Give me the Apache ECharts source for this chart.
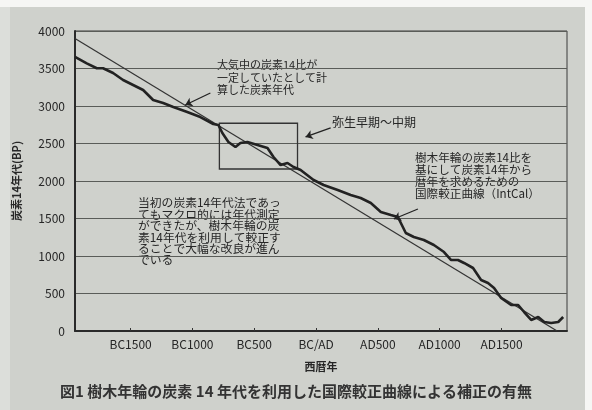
<!DOCTYPE html>
<html>
<head>
<meta charset="utf-8">
<script src="https://cdn.jsdelivr.net/npm/echarts@6/dist/echarts.min.js"></script>
<style>
  html, body { margin: 0; padding: 0; background: #ffffff; }
  #chart { width: 592px; height: 410px; }
</style>
</head>
<body>
<div id="chart"></div>
<script>
// Calendar year (negative = BC) and radiocarbon age (BP) of the IntCal curve
const curveYears = [
  -1950, -1855, -1774, -1723, -1642, -1561, -1480, -1399, -1318, -1237,
  -1155, -1042, -936, -831, -790, -758, -709, -652, -612, -555,
  -474, -393, -344, -287, -231, -182, -125, -20, 61, 175,
  280, 361, 443, 524, 605, 662, 686, 726, 791, 872,
  953, 1035, 1091, 1148, 1197, 1270, 1335, 1391, 1440, 1497,
  1578, 1635, 1683, 1740, 1797, 1846, 1902, 1959, 1999
];
const curveBP = [
  3655, 3569, 3503, 3503, 3440, 3347, 3280, 3213, 3080, 3040,
  2987, 2920, 2853, 2760, 2747, 2640, 2520, 2453, 2507, 2520,
  2480, 2440, 2320, 2213, 2240, 2187, 2147, 2013, 1947, 1880,
  1813, 1773, 1707, 1587, 1547, 1520, 1440, 1307, 1253, 1213,
  1147, 1053, 947, 947, 907, 840, 680, 640, 573, 440,
  347, 347, 253, 147, 187, 120, 107, 120, 187
];

// Radiocarbon age assuming a constant atmospheric 14C ratio (end points)
const constYears = [-1950, 1950];
const constBP = [3900, 0];

// Yayoi early–middle period window
const yayoiYears = [-782, -150];
const yayoiBP = [2160, 2770];

// Axis ticks
const xTickYears = [-1500, -1000, -500, 0, 500, 1000, 1500];
const xTickLabels = ['BC1500', 'BC1000', 'BC500', 'BC/AD', 'AD500', 'AD1000', 'AD1500'];
const yTicks = [0, 500, 1000, 1500, 2000, 2500, 3000, 3500, 4000];

// Annotation texts and the points their arrows lead to
const noteConst = ['大気中の炭素14比が', '一定していたとして計', '算した炭素年代'];
const noteYayoi = '弥生早期〜中期';
const noteIntcal = ['樹木年輪の炭素14比を', '基にして炭素14年から', '暦年を求めるための', '国際較正曲線（IntCal）'];
const noteHistory = ['当初の炭素14年代法であっ', 'てもマクロ的には年代測定', 'ができたが、樹木年輪の炭', '素14年代を利用して較正す', 'ることで大幅な改良が進ん', 'でいる'];
const caption = '図1 樹木年輪の炭素 14 年代を利用した国際較正曲線による補正の有無';
const arrowConst = [[-855, 3173], [-1058, 3013]];
const arrowYayoi = [[118, 2707], [-85, 2587]];
const arrowIntcal = [[824, 1627], [629, 1493]];

const FONT = '"Noto Sans CJK JP", "Noto Sans", sans-serif';
const INK = '#262626';

const chart = echarts.init(document.getElementById('chart'));

const zip = (xs, ys) => xs.map((x, i) => [x, ys[i]]);
const arrowPair = (a) => [{ coord: a[0] }, { coord: a[1] }];

const option = {
  backgroundColor: '#cfd1cc',
  animation: false,
  grid: {
    left: 75, right: 25, top: 31, bottom: 79,
    show: true, borderColor: '#3a3a3a', borderWidth: 1,
    backgroundColor: 'transparent'
  },
  xAxis: {
    type: 'value',
    min: -1950,
    max: 2030,
    name: '西暦年',
    nameLocation: 'middle',
    nameGap: 30,
    nameTextStyle: { fontFamily: FONT, fontSize: 11, color: INK, fontWeight: 'bold' },
    axisLine: { show: true, onZero: false, lineStyle: { color: '#2a2a2a', width: 2 } },
    axisTick: { show: true, inside: true, length: 3, customValues: xTickYears, lineStyle: { color: '#333' } },
    axisLabel: {
      customValues: xTickYears,
      formatter: (v) => xTickLabels[xTickYears.indexOf(v)],
      fontFamily: FONT, fontSize: 12, color: INK, margin: 7
    },
    splitLine: { show: false }
  },
  yAxis: {
    type: 'value',
    min: yTicks[0],
    max: yTicks[yTicks.length - 1],
    interval: 500,
    name: '炭素14年代(BP)',
    nameLocation: 'middle',
    nameGap: 53,
    nameTextStyle: { fontFamily: FONT, fontSize: 11, color: INK, fontWeight: 'bold' },
    axisLine: { show: true, onZero: false, lineStyle: { color: '#2a2a2a', width: 2 } },
    axisTick: { show: false },
    axisLabel: {
      formatter: (v) => String(v),
      fontFamily: FONT, fontSize: 12, color: INK, margin: 10
    },
    splitLine: { show: true, lineStyle: { color: '#5a5c58', width: 1 } }
  },
  series: [
    {
      name: 'constant',
      type: 'line',
      data: zip(constYears, constBP),
      showSymbol: false,
      lineStyle: { color: '#333', width: 1.2 },
      z: 3,
      markLine: {
        silent: true,
        symbol: ['none', 'arrow'],
        symbolSize: 7,
        label: { show: false },
        lineStyle: { color: '#222', width: 1.3, type: 'solid' },
        data: [arrowPair(arrowConst), arrowPair(arrowYayoi), arrowPair(arrowIntcal)]
      }
    },
    {
      name: 'IntCal',
      type: 'line',
      data: zip(curveYears, curveBP),
      showSymbol: false,
      lineStyle: { color: '#222', width: 2.6 },
      z: 4,
      markArea: {
        silent: true,
        itemStyle: { color: 'rgba(0,0,0,0)', borderColor: '#333', borderWidth: 1.3 },
        label: { show: false },
        data: [[{ coord: [yayoiYears[0], yayoiBP[1]] }, { coord: [yayoiYears[1], yayoiBP[0]] }]]
      }
    }
  ],
  graphic: [
    { type: 'rect', left: 0, top: 0, shape: { width: 592, height: 7 }, style: { fill: '#f6f6f4' } },
    { type: 'rect', left: 585, top: 0, shape: { width: 7, height: 410 }, style: { fill: '#f6f6f4' } },
    { type: 'rect', left: 0, top: 7, shape: { width: 10, height: 403 }, style: { fill: '#dcdeda' } },
    {
      type: 'text', left: 217, top: 59,
      style: { text: noteConst.join('\n'), font: '11px ' + FONT, lineHeight: 12.5, fill: INK }
    },
    {
      type: 'text', left: 332, top: 116,
      style: { text: noteYayoi, font: '12px ' + FONT, fill: INK }
    },
    {
      type: 'text', left: 415, top: 152,
      style: { text: noteIntcal.join('\n'), font: '11.6px ' + FONT, lineHeight: 11.8, fill: INK }
    },
    {
      type: 'text', left: 138, top: 197,
      style: { text: noteHistory.join('\n'), font: '11.8px ' + FONT, lineHeight: 11.4, fill: INK }
    },
    {
      type: 'text', left: 'center', top: 384,
      style: { text: caption, font: 'bold 15px ' + FONT, fill: '#333' }
    }
  ]
};

chart.setOption(option);
</script>
</body>
</html>
